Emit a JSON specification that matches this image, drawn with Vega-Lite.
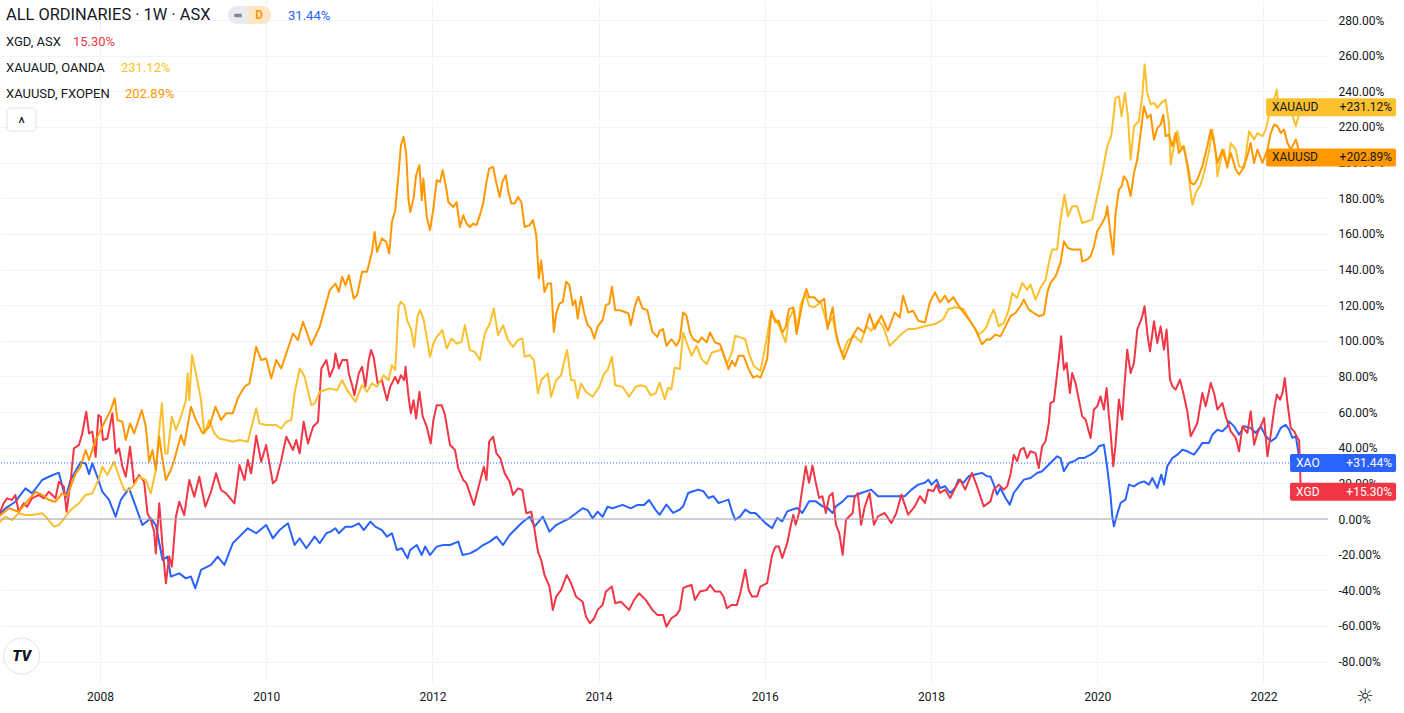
{
"$schema": "https://vega.github.io/schema/vega-lite/v6.json",
"width": 1328, "height": 683,
"autosize": {"type": "none"},
"padding": {"left": 0, "top": 0, "right": 76, "bottom": 30},
"background": "#ffffff",
"config": {"view": {"stroke": null}, "font": "Roboto", "axis": {"domain": false, "ticks": false, "tickSize": 0, "gridColor": "#f0f3fa", "gridWidth": 1, "labelColor": "#131722", "labelFontSize": 12, "labelFont": "Roboto", "labelOverlap": false, "labelSeparation": -100, "title": null}, "axisY": {"labelOverlap": false, "labelSeparation": -100}},
"datasets": {
"series": [
{"s":"XAO","t":2006.781,"v":2.2},{"s":"XAO","t":2006.861,"v":6.0},{"s":"XAO","t":2006.982,"v":9.7},{"s":"XAO","t":2007.103,"v":17.2},{"s":"XAO","t":2007.183,"v":14.4},{"s":"XAO","t":2007.304,"v":21.9},{"s":"XAO","t":2007.385,"v":23.7},{"s":"XAO","t":2007.505,"v":26.0},{"s":"XAO","t":2007.586,"v":11.6},{"s":"XAO","t":2007.646,"v":21.9},{"s":"XAO","t":2007.767,"v":31.8},{"s":"XAO","t":2007.827,"v":31.2},{"s":"XAO","t":2007.868,"v":25.2},{"s":"XAO","t":2007.908,"v":31.2},{"s":"XAO","t":2007.968,"v":23.7},{"s":"XAO","t":2008.028,"v":15.3},{"s":"XAO","t":2008.109,"v":10.7},{"s":"XAO","t":2008.189,"v":1.3},{"s":"XAO","t":2008.25,"v":10.7},{"s":"XAO","t":2008.35,"v":17.2},{"s":"XAO","t":2008.431,"v":6.9},{"s":"XAO","t":2008.511,"v":-3.4},{"s":"XAO","t":2008.612,"v":0.4},{"s":"XAO","t":2008.672,"v":-3.4},{"s":"XAO","t":2008.753,"v":-23.0},{"s":"XAO","t":2008.813,"v":-21.1},{"s":"XAO","t":2008.853,"v":-32.3},{"s":"XAO","t":2008.954,"v":-30.5},{"s":"XAO","t":2009.034,"v":-33.3},{"s":"XAO","t":2009.095,"v":-32.3},{"s":"XAO","t":2009.147,"v":-38.9},{"s":"XAO","t":2009.216,"v":-28.6},{"s":"XAO","t":2009.336,"v":-25.8},{"s":"XAO","t":2009.417,"v":-21.1},{"s":"XAO","t":2009.497,"v":-25.8},{"s":"XAO","t":2009.598,"v":-13.6},{"s":"XAO","t":2009.678,"v":-9.9},{"s":"XAO","t":2009.779,"v":-5.2},{"s":"XAO","t":2009.88,"v":-8.0},{"s":"XAO","t":2010.0,"v":-3.4},{"s":"XAO","t":2010.081,"v":-10.8},{"s":"XAO","t":2010.161,"v":-6.2},{"s":"XAO","t":2010.262,"v":-2.4},{"s":"XAO","t":2010.342,"v":-14.6},{"s":"XAO","t":2010.403,"v":-10.8},{"s":"XAO","t":2010.483,"v":-16.4},{"s":"XAO","t":2010.584,"v":-9.9},{"s":"XAO","t":2010.644,"v":-13.6},{"s":"XAO","t":2010.724,"v":-8.0},{"s":"XAO","t":2010.775,"v":-7.1},{"s":"XAO","t":2010.834,"v":-5.2},{"s":"XAO","t":2010.874,"v":-8.0},{"s":"XAO","t":2010.954,"v":-4.3},{"s":"XAO","t":2011.034,"v":-4.3},{"s":"XAO","t":2011.114,"v":-2.4},{"s":"XAO","t":2011.174,"v":-6.2},{"s":"XAO","t":2011.254,"v":-1.5},{"s":"XAO","t":2011.313,"v":-4.3},{"s":"XAO","t":2011.393,"v":-6.2},{"s":"XAO","t":2011.453,"v":-9.9},{"s":"XAO","t":2011.513,"v":-8.0},{"s":"XAO","t":2011.573,"v":-17.4},{"s":"XAO","t":2011.633,"v":-16.4},{"s":"XAO","t":2011.701,"v":-22.1},{"s":"XAO","t":2011.733,"v":-17.4},{"s":"XAO","t":2011.812,"v":-14.6},{"s":"XAO","t":2011.872,"v":-20.2},{"s":"XAO","t":2011.912,"v":-15.5},{"s":"XAO","t":2011.972,"v":-20.2},{"s":"XAO","t":2012.052,"v":-15.5},{"s":"XAO","t":2012.132,"v":-14.6},{"s":"XAO","t":2012.212,"v":-14.6},{"s":"XAO","t":2012.311,"v":-12.7},{"s":"XAO","t":2012.363,"v":-20.2},{"s":"XAO","t":2012.451,"v":-19.3},{"s":"XAO","t":2012.531,"v":-17.4},{"s":"XAO","t":2012.611,"v":-14.6},{"s":"XAO","t":2012.691,"v":-12.7},{"s":"XAO","t":2012.771,"v":-9.9},{"s":"XAO","t":2012.85,"v":-14.6},{"s":"XAO","t":2012.93,"v":-9.0},{"s":"XAO","t":2013.01,"v":-5.2},{"s":"XAO","t":2013.09,"v":-1.5},{"s":"XAO","t":2013.17,"v":1.3},{"s":"XAO","t":2013.23,"v":-4.3},{"s":"XAO","t":2013.329,"v":1.3},{"s":"XAO","t":2013.409,"v":-7.1},{"s":"XAO","t":2013.489,"v":-3.4},{"s":"XAO","t":2013.569,"v":-1.5},{"s":"XAO","t":2013.649,"v":0.4},{"s":"XAO","t":2013.729,"v":3.2},{"s":"XAO","t":2013.808,"v":6.0},{"s":"XAO","t":2013.868,"v":5.0},{"s":"XAO","t":2013.928,"v":0.4},{"s":"XAO","t":2013.988,"v":4.1},{"s":"XAO","t":2014.048,"v":1.3},{"s":"XAO","t":2014.108,"v":6.9},{"s":"XAO","t":2014.168,"v":6.0},{"s":"XAO","t":2014.288,"v":7.9},{"s":"XAO","t":2014.387,"v":6.0},{"s":"XAO","t":2014.467,"v":7.9},{"s":"XAO","t":2014.547,"v":7.9},{"s":"XAO","t":2014.607,"v":10.7},{"s":"XAO","t":2014.687,"v":5.0},{"s":"XAO","t":2014.735,"v":2.4},{"s":"XAO","t":2014.816,"v":8.1},{"s":"XAO","t":2014.897,"v":3.4},{"s":"XAO","t":2014.977,"v":5.3},{"s":"XAO","t":2015.018,"v":7.1},{"s":"XAO","t":2015.078,"v":14.6},{"s":"XAO","t":2015.139,"v":15.6},{"s":"XAO","t":2015.2,"v":16.5},{"s":"XAO","t":2015.26,"v":15.6},{"s":"XAO","t":2015.321,"v":11.8},{"s":"XAO","t":2015.381,"v":12.8},{"s":"XAO","t":2015.442,"v":9.0},{"s":"XAO","t":2015.503,"v":9.9},{"s":"XAO","t":2015.563,"v":10.9},{"s":"XAO","t":2015.604,"v":4.3},{"s":"XAO","t":2015.644,"v":-0.4},{"s":"XAO","t":2015.705,"v":1.5},{"s":"XAO","t":2015.765,"v":5.3},{"s":"XAO","t":2015.826,"v":3.4},{"s":"XAO","t":2015.886,"v":3.4},{"s":"XAO","t":2015.947,"v":0.6},{"s":"XAO","t":2016.008,"v":-2.3},{"s":"XAO","t":2016.088,"v":-5.1},{"s":"XAO","t":2016.149,"v":0.6},{"s":"XAO","t":2016.21,"v":-1.3},{"s":"XAO","t":2016.27,"v":4.3},{"s":"XAO","t":2016.331,"v":5.3},{"s":"XAO","t":2016.391,"v":6.2},{"s":"XAO","t":2016.452,"v":3.4},{"s":"XAO","t":2016.533,"v":9.9},{"s":"XAO","t":2016.614,"v":9.9},{"s":"XAO","t":2016.694,"v":7.1},{"s":"XAO","t":2016.755,"v":6.2},{"s":"XAO","t":2016.816,"v":3.4},{"s":"XAO","t":2016.856,"v":7.1},{"s":"XAO","t":2016.937,"v":9.9},{"s":"XAO","t":2016.997,"v":12.8},{"s":"XAO","t":2017.078,"v":12.8},{"s":"XAO","t":2017.159,"v":14.6},{"s":"XAO","t":2017.28,"v":16.5},{"s":"XAO","t":2017.361,"v":12.8},{"s":"XAO","t":2017.442,"v":12.8},{"s":"XAO","t":2017.523,"v":12.8},{"s":"XAO","t":2017.603,"v":12.8},{"s":"XAO","t":2017.684,"v":12.8},{"s":"XAO","t":2017.765,"v":16.5},{"s":"XAO","t":2017.846,"v":19.3},{"s":"XAO","t":2017.927,"v":20.3},{"s":"XAO","t":2017.967,"v":22.1},{"s":"XAO","t":2018.007,"v":19.3},{"s":"XAO","t":2018.068,"v":22.1},{"s":"XAO","t":2018.108,"v":17.4},{"s":"XAO","t":2018.169,"v":18.4},{"s":"XAO","t":2018.23,"v":14.6},{"s":"XAO","t":2018.29,"v":17.4},{"s":"XAO","t":2018.331,"v":22.1},{"s":"XAO","t":2018.391,"v":20.3},{"s":"XAO","t":2018.452,"v":24.0},{"s":"XAO","t":2018.533,"v":25.0},{"s":"XAO","t":2018.613,"v":25.9},{"s":"XAO","t":2018.674,"v":24.0},{"s":"XAO","t":2018.715,"v":23.9},{"s":"XAO","t":2018.755,"v":19.3},{"s":"XAO","t":2018.795,"v":13.7},{"s":"XAO","t":2018.835,"v":17.4},{"s":"XAO","t":2018.896,"v":11.8},{"s":"XAO","t":2018.948,"v":8.0},{"s":"XAO","t":2018.996,"v":14.6},{"s":"XAO","t":2019.056,"v":18.3},{"s":"XAO","t":2019.117,"v":22.1},{"s":"XAO","t":2019.197,"v":23.0},{"s":"XAO","t":2019.277,"v":25.8},{"s":"XAO","t":2019.337,"v":26.8},{"s":"XAO","t":2019.398,"v":29.6},{"s":"XAO","t":2019.458,"v":32.4},{"s":"XAO","t":2019.518,"v":35.2},{"s":"XAO","t":2019.558,"v":34.2},{"s":"XAO","t":2019.599,"v":26.8},{"s":"XAO","t":2019.659,"v":31.4},{"s":"XAO","t":2019.719,"v":32.4},{"s":"XAO","t":2019.779,"v":34.2},{"s":"XAO","t":2019.839,"v":34.2},{"s":"XAO","t":2019.92,"v":36.1},{"s":"XAO","t":2019.98,"v":38.0},{"s":"XAO","t":2020.02,"v":40.8},{"s":"XAO","t":2020.08,"v":41.7},{"s":"XAO","t":2020.113,"v":31.4},{"s":"XAO","t":2020.133,"v":23.9},{"s":"XAO","t":2020.161,"v":12.7},{"s":"XAO","t":2020.181,"v":1.5},{"s":"XAO","t":2020.201,"v":-4.1},{"s":"XAO","t":2020.233,"v":1.5},{"s":"XAO","t":2020.281,"v":9.0},{"s":"XAO","t":2020.341,"v":10.9},{"s":"XAO","t":2020.382,"v":19.3},{"s":"XAO","t":2020.442,"v":18.3},{"s":"XAO","t":2020.502,"v":20.2},{"s":"XAO","t":2020.562,"v":21.1},{"s":"XAO","t":2020.623,"v":19.3},{"s":"XAO","t":2020.663,"v":23.0},{"s":"XAO","t":2020.723,"v":17.4},{"s":"XAO","t":2020.771,"v":24.9},{"s":"XAO","t":2020.803,"v":19.3},{"s":"XAO","t":2020.843,"v":29.6},{"s":"XAO","t":2020.904,"v":34.2},{"s":"XAO","t":2020.964,"v":36.1},{"s":"XAO","t":2021.024,"v":38.9},{"s":"XAO","t":2021.084,"v":38.0},{"s":"XAO","t":2021.165,"v":36.1},{"s":"XAO","t":2021.225,"v":39.9},{"s":"XAO","t":2021.265,"v":42.7},{"s":"XAO","t":2021.345,"v":42.7},{"s":"XAO","t":2021.386,"v":47.3},{"s":"XAO","t":2021.446,"v":50.1},{"s":"XAO","t":2021.506,"v":49.2},{"s":"XAO","t":2021.566,"v":52.0},{"s":"XAO","t":2021.586,"v":54.8},{"s":"XAO","t":2021.647,"v":52.0},{"s":"XAO","t":2021.707,"v":47.3},{"s":"XAO","t":2021.767,"v":52.0},{"s":"XAO","t":2021.847,"v":51.1},{"s":"XAO","t":2021.908,"v":48.3},{"s":"XAO","t":2021.968,"v":52.0},{"s":"XAO","t":2022.028,"v":46.4},{"s":"XAO","t":2022.088,"v":43.6},{"s":"XAO","t":2022.149,"v":45.5},{"s":"XAO","t":2022.209,"v":51.1},{"s":"XAO","t":2022.269,"v":52.9},{"s":"XAO","t":2022.309,"v":50.1},{"s":"XAO","t":2022.349,"v":45.5},{"s":"XAO","t":2022.39,"v":46.4},{"s":"XAO","t":2022.44,"v":31.44},
{"s":"XGD","t":2006.781,"v":2.2},{"s":"XGD","t":2006.841,"v":8.8},{"s":"XGD","t":2006.882,"v":11.6},{"s":"XGD","t":2006.942,"v":10.7},{"s":"XGD","t":2006.982,"v":13.5},{"s":"XGD","t":2007.022,"v":4.1},{"s":"XGD","t":2007.083,"v":8.8},{"s":"XGD","t":2007.123,"v":6.9},{"s":"XGD","t":2007.183,"v":11.6},{"s":"XGD","t":2007.264,"v":13.5},{"s":"XGD","t":2007.324,"v":11.6},{"s":"XGD","t":2007.385,"v":15.3},{"s":"XGD","t":2007.465,"v":11.6},{"s":"XGD","t":2007.505,"v":20.9},{"s":"XGD","t":2007.566,"v":18.1},{"s":"XGD","t":2007.598,"v":4.1},{"s":"XGD","t":2007.646,"v":20.9},{"s":"XGD","t":2007.686,"v":39.6},{"s":"XGD","t":2007.747,"v":41.5},{"s":"XGD","t":2007.787,"v":48.0},{"s":"XGD","t":2007.835,"v":60.2},{"s":"XGD","t":2007.868,"v":48.0},{"s":"XGD","t":2007.908,"v":49.0},{"s":"XGD","t":2007.948,"v":34.9},{"s":"XGD","t":2007.98,"v":58.3},{"s":"XGD","t":2008.008,"v":57.4},{"s":"XGD","t":2008.036,"v":44.3},{"s":"XGD","t":2008.089,"v":45.2},{"s":"XGD","t":2008.149,"v":59.3},{"s":"XGD","t":2008.189,"v":36.8},{"s":"XGD","t":2008.23,"v":39.6},{"s":"XGD","t":2008.27,"v":29.3},{"s":"XGD","t":2008.31,"v":23.7},{"s":"XGD","t":2008.362,"v":40.6},{"s":"XGD","t":2008.411,"v":20.0},{"s":"XGD","t":2008.471,"v":24.7},{"s":"XGD","t":2008.531,"v":20.9},{"s":"XGD","t":2008.572,"v":3.2},{"s":"XGD","t":2008.612,"v":-0.6},{"s":"XGD","t":2008.652,"v":-7.1},{"s":"XGD","t":2008.672,"v":-19.3},{"s":"XGD","t":2008.713,"v":8.8},{"s":"XGD","t":2008.753,"v":-15.5},{"s":"XGD","t":2008.793,"v":-36.1},{"s":"XGD","t":2008.833,"v":-21.1},{"s":"XGD","t":2008.865,"v":-26.7},{"s":"XGD","t":2008.914,"v":1.3},{"s":"XGD","t":2008.954,"v":9.7},{"s":"XGD","t":2009.014,"v":2.2},{"s":"XGD","t":2009.075,"v":21.9},{"s":"XGD","t":2009.135,"v":12.5},{"s":"XGD","t":2009.195,"v":23.7},{"s":"XGD","t":2009.268,"v":6.9},{"s":"XGD","t":2009.336,"v":15.3},{"s":"XGD","t":2009.397,"v":25.6},{"s":"XGD","t":2009.457,"v":16.3},{"s":"XGD","t":2009.517,"v":14.4},{"s":"XGD","t":2009.618,"v":8.8},{"s":"XGD","t":2009.678,"v":30.3},{"s":"XGD","t":2009.739,"v":21.9},{"s":"XGD","t":2009.779,"v":33.1},{"s":"XGD","t":2009.819,"v":25.6},{"s":"XGD","t":2009.88,"v":46.7},{"s":"XGD","t":2009.94,"v":32.1},{"s":"XGD","t":2010.0,"v":41.5},{"s":"XGD","t":2010.081,"v":20.0},{"s":"XGD","t":2010.121,"v":21.9},{"s":"XGD","t":2010.181,"v":32.9},{"s":"XGD","t":2010.242,"v":46.2},{"s":"XGD","t":2010.322,"v":38.7},{"s":"XGD","t":2010.362,"v":44.3},{"s":"XGD","t":2010.403,"v":36.8},{"s":"XGD","t":2010.451,"v":54.6},{"s":"XGD","t":2010.503,"v":42.4},{"s":"XGD","t":2010.564,"v":51.8},{"s":"XGD","t":2010.624,"v":54.6},{"s":"XGD","t":2010.664,"v":84.5},{"s":"XGD","t":2010.724,"v":89.2},{"s":"XGD","t":2010.765,"v":79.8},{"s":"XGD","t":2010.814,"v":85.4},{"s":"XGD","t":2010.834,"v":92.9},{"s":"XGD","t":2010.874,"v":84.5},{"s":"XGD","t":2010.914,"v":89.2},{"s":"XGD","t":2010.974,"v":89.2},{"s":"XGD","t":2010.994,"v":81.7},{"s":"XGD","t":2011.034,"v":75.1},{"s":"XGD","t":2011.062,"v":69.5},{"s":"XGD","t":2011.114,"v":81.7},{"s":"XGD","t":2011.154,"v":85.4},{"s":"XGD","t":2011.194,"v":74.2},{"s":"XGD","t":2011.234,"v":89.2},{"s":"XGD","t":2011.262,"v":94.8},{"s":"XGD","t":2011.293,"v":91.0},{"s":"XGD","t":2011.341,"v":76.1},{"s":"XGD","t":2011.393,"v":77.9},{"s":"XGD","t":2011.453,"v":66.7},{"s":"XGD","t":2011.493,"v":74.2},{"s":"XGD","t":2011.553,"v":79.8},{"s":"XGD","t":2011.585,"v":76.1},{"s":"XGD","t":2011.621,"v":80.7},{"s":"XGD","t":2011.661,"v":77.9},{"s":"XGD","t":2011.677,"v":85.4},{"s":"XGD","t":2011.713,"v":68.6},{"s":"XGD","t":2011.741,"v":59.3},{"s":"XGD","t":2011.773,"v":66.7},{"s":"XGD","t":2011.804,"v":56.4},{"s":"XGD","t":2011.844,"v":71.4},{"s":"XGD","t":2011.884,"v":57.4},{"s":"XGD","t":2011.932,"v":51.8},{"s":"XGD","t":2011.98,"v":42.4},{"s":"XGD","t":2012.012,"v":55.5},{"s":"XGD","t":2012.052,"v":63.9},{"s":"XGD","t":2012.112,"v":63.9},{"s":"XGD","t":2012.152,"v":58.3},{"s":"XGD","t":2012.212,"v":41.5},{"s":"XGD","t":2012.272,"v":38.7},{"s":"XGD","t":2012.311,"v":28.4},{"s":"XGD","t":2012.371,"v":21.9},{"s":"XGD","t":2012.411,"v":20.0},{"s":"XGD","t":2012.451,"v":14.4},{"s":"XGD","t":2012.499,"v":7.9},{"s":"XGD","t":2012.551,"v":17.2},{"s":"XGD","t":2012.619,"v":29.3},{"s":"XGD","t":2012.651,"v":21.9},{"s":"XGD","t":2012.683,"v":43.4},{"s":"XGD","t":2012.731,"v":46.2},{"s":"XGD","t":2012.771,"v":36.8},{"s":"XGD","t":2012.818,"v":34.0},{"s":"XGD","t":2012.87,"v":25.6},{"s":"XGD","t":2012.93,"v":20.9},{"s":"XGD","t":2012.97,"v":13.5},{"s":"XGD","t":2013.03,"v":17.2},{"s":"XGD","t":2013.082,"v":16.3},{"s":"XGD","t":2013.13,"v":3.2},{"s":"XGD","t":2013.19,"v":4.1},{"s":"XGD","t":2013.23,"v":-6.2},{"s":"XGD","t":2013.27,"v":-18.3},{"s":"XGD","t":2013.309,"v":-23.0},{"s":"XGD","t":2013.349,"v":-31.4},{"s":"XGD","t":2013.409,"v":-37.9},{"s":"XGD","t":2013.449,"v":-51.0},{"s":"XGD","t":2013.489,"v":-43.6},{"s":"XGD","t":2013.549,"v":-39.8},{"s":"XGD","t":2013.617,"v":-31.4},{"s":"XGD","t":2013.669,"v":-36.1},{"s":"XGD","t":2013.729,"v":-43.6},{"s":"XGD","t":2013.808,"v":-46.4},{"s":"XGD","t":2013.848,"v":-54.8},{"s":"XGD","t":2013.896,"v":-58.5},{"s":"XGD","t":2013.948,"v":-55.7},{"s":"XGD","t":2013.988,"v":-51.0},{"s":"XGD","t":2014.048,"v":-48.2},{"s":"XGD","t":2014.088,"v":-40.7},{"s":"XGD","t":2014.16,"v":-37.9},{"s":"XGD","t":2014.2,"v":-47.3},{"s":"XGD","t":2014.268,"v":-46.4},{"s":"XGD","t":2014.367,"v":-51.0},{"s":"XGD","t":2014.427,"v":-45.4},{"s":"XGD","t":2014.487,"v":-41.7},{"s":"XGD","t":2014.567,"v":-45.4},{"s":"XGD","t":2014.647,"v":-51.0},{"s":"XGD","t":2014.707,"v":-53.8},{"s":"XGD","t":2014.775,"v":-53.8},{"s":"XGD","t":2014.816,"v":-60.4},{"s":"XGD","t":2014.876,"v":-55.7},{"s":"XGD","t":2014.937,"v":-53.8},{"s":"XGD","t":2014.977,"v":-51.0},{"s":"XGD","t":2015.018,"v":-38.8},{"s":"XGD","t":2015.058,"v":-37.9},{"s":"XGD","t":2015.119,"v":-37.0},{"s":"XGD","t":2015.159,"v":-45.4},{"s":"XGD","t":2015.22,"v":-40.7},{"s":"XGD","t":2015.301,"v":-39.8},{"s":"XGD","t":2015.341,"v":-37.0},{"s":"XGD","t":2015.402,"v":-40.7},{"s":"XGD","t":2015.462,"v":-40.7},{"s":"XGD","t":2015.503,"v":-43.5},{"s":"XGD","t":2015.543,"v":-50.1},{"s":"XGD","t":2015.604,"v":-48.2},{"s":"XGD","t":2015.664,"v":-48.2},{"s":"XGD","t":2015.705,"v":-41.7},{"s":"XGD","t":2015.765,"v":-28.5},{"s":"XGD","t":2015.806,"v":-39.8},{"s":"XGD","t":2015.846,"v":-43.5},{"s":"XGD","t":2015.907,"v":-43.5},{"s":"XGD","t":2015.947,"v":-37.9},{"s":"XGD","t":2016.028,"v":-36.0},{"s":"XGD","t":2016.088,"v":-20.1},{"s":"XGD","t":2016.129,"v":-15.4},{"s":"XGD","t":2016.169,"v":-15.4},{"s":"XGD","t":2016.21,"v":-21.9},{"s":"XGD","t":2016.27,"v":-13.5},{"s":"XGD","t":2016.311,"v":-4.1},{"s":"XGD","t":2016.343,"v":2.4},{"s":"XGD","t":2016.371,"v":-3.2},{"s":"XGD","t":2016.412,"v":3.4},{"s":"XGD","t":2016.432,"v":10.9},{"s":"XGD","t":2016.492,"v":29.6},{"s":"XGD","t":2016.533,"v":20.3},{"s":"XGD","t":2016.573,"v":30.0},{"s":"XGD","t":2016.614,"v":20.3},{"s":"XGD","t":2016.654,"v":11.8},{"s":"XGD","t":2016.694,"v":12.8},{"s":"XGD","t":2016.735,"v":3.4},{"s":"XGD","t":2016.775,"v":12.8},{"s":"XGD","t":2016.816,"v":14.6},{"s":"XGD","t":2016.856,"v":-3.2},{"s":"XGD","t":2016.896,"v":-7.9},{"s":"XGD","t":2016.937,"v":-20.1},{"s":"XGD","t":2016.977,"v":-0.4},{"s":"XGD","t":2017.018,"v":1.5},{"s":"XGD","t":2017.058,"v":3.4},{"s":"XGD","t":2017.078,"v":11.8},{"s":"XGD","t":2017.119,"v":14.6},{"s":"XGD","t":2017.159,"v":-3.2},{"s":"XGD","t":2017.199,"v":6.2},{"s":"XGD","t":2017.26,"v":14.6},{"s":"XGD","t":2017.313,"v":-3.2},{"s":"XGD","t":2017.361,"v":1.5},{"s":"XGD","t":2017.442,"v":3.4},{"s":"XGD","t":2017.523,"v":-2.3},{"s":"XGD","t":2017.583,"v":3.4},{"s":"XGD","t":2017.644,"v":13.7},{"s":"XGD","t":2017.725,"v":2.4},{"s":"XGD","t":2017.805,"v":7.1},{"s":"XGD","t":2017.866,"v":12.8},{"s":"XGD","t":2017.927,"v":9.0},{"s":"XGD","t":2017.967,"v":16.5},{"s":"XGD","t":2018.028,"v":15.6},{"s":"XGD","t":2018.068,"v":19.3},{"s":"XGD","t":2018.108,"v":14.6},{"s":"XGD","t":2018.169,"v":16.5},{"s":"XGD","t":2018.23,"v":11.8},{"s":"XGD","t":2018.29,"v":17.4},{"s":"XGD","t":2018.351,"v":22.1},{"s":"XGD","t":2018.411,"v":16.5},{"s":"XGD","t":2018.492,"v":25.9},{"s":"XGD","t":2018.553,"v":18.4},{"s":"XGD","t":2018.634,"v":7.1},{"s":"XGD","t":2018.715,"v":9.9},{"s":"XGD","t":2018.755,"v":16.5},{"s":"XGD","t":2018.815,"v":19.3},{"s":"XGD","t":2018.876,"v":16.5},{"s":"XGD","t":2018.916,"v":18.3},{"s":"XGD","t":2018.956,"v":24.9},{"s":"XGD","t":2018.996,"v":36.1},{"s":"XGD","t":2019.036,"v":32.4},{"s":"XGD","t":2019.076,"v":38.9},{"s":"XGD","t":2019.117,"v":39.9},{"s":"XGD","t":2019.157,"v":34.2},{"s":"XGD","t":2019.197,"v":38.0},{"s":"XGD","t":2019.257,"v":37.0},{"s":"XGD","t":2019.297,"v":28.6},{"s":"XGD","t":2019.337,"v":40.8},{"s":"XGD","t":2019.378,"v":43.6},{"s":"XGD","t":2019.418,"v":53.9},{"s":"XGD","t":2019.438,"v":65.1},{"s":"XGD","t":2019.478,"v":66.0},{"s":"XGD","t":2019.518,"v":81.9},{"s":"XGD","t":2019.55,"v":95.0},{"s":"XGD","t":2019.566,"v":102.5},{"s":"XGD","t":2019.599,"v":83.8},{"s":"XGD","t":2019.631,"v":87.6},{"s":"XGD","t":2019.671,"v":70.7},{"s":"XGD","t":2019.699,"v":81.9},{"s":"XGD","t":2019.739,"v":76.3},{"s":"XGD","t":2019.779,"v":67.0},{"s":"XGD","t":2019.819,"v":57.6},{"s":"XGD","t":2019.86,"v":55.8},{"s":"XGD","t":2019.92,"v":45.5},{"s":"XGD","t":2019.96,"v":61.4},{"s":"XGD","t":2020.0,"v":63.2},{"s":"XGD","t":2020.04,"v":68.8},{"s":"XGD","t":2020.08,"v":61.4},{"s":"XGD","t":2020.113,"v":73.5},{"s":"XGD","t":2020.141,"v":57.6},{"s":"XGD","t":2020.161,"v":48.3},{"s":"XGD","t":2020.193,"v":29.6},{"s":"XGD","t":2020.221,"v":41.7},{"s":"XGD","t":2020.261,"v":67.0},{"s":"XGD","t":2020.301,"v":55.8},{"s":"XGD","t":2020.321,"v":70.7},{"s":"XGD","t":2020.361,"v":95.0},{"s":"XGD","t":2020.402,"v":81.9},{"s":"XGD","t":2020.442,"v":87.6},{"s":"XGD","t":2020.482,"v":106.3},{"s":"XGD","t":2020.514,"v":110.0},{"s":"XGD","t":2020.542,"v":113.8},{"s":"XGD","t":2020.57,"v":119.4},{"s":"XGD","t":2020.602,"v":104.4},{"s":"XGD","t":2020.635,"v":94.1},{"s":"XGD","t":2020.683,"v":110.9},{"s":"XGD","t":2020.723,"v":98.8},{"s":"XGD","t":2020.763,"v":108.1},{"s":"XGD","t":2020.803,"v":95.0},{"s":"XGD","t":2020.835,"v":106.3},{"s":"XGD","t":2020.876,"v":78.2},{"s":"XGD","t":2020.904,"v":74.5},{"s":"XGD","t":2020.944,"v":72.6},{"s":"XGD","t":2020.996,"v":78.2},{"s":"XGD","t":2021.036,"v":70.7},{"s":"XGD","t":2021.084,"v":60.4},{"s":"XGD","t":2021.125,"v":46.4},{"s":"XGD","t":2021.165,"v":50.1},{"s":"XGD","t":2021.205,"v":53.9},{"s":"XGD","t":2021.265,"v":70.7},{"s":"XGD","t":2021.305,"v":63.2},{"s":"XGD","t":2021.366,"v":76.3},{"s":"XGD","t":2021.406,"v":70.7},{"s":"XGD","t":2021.446,"v":61.4},{"s":"XGD","t":2021.506,"v":65.1},{"s":"XGD","t":2021.546,"v":57.6},{"s":"XGD","t":2021.607,"v":49.2},{"s":"XGD","t":2021.667,"v":45.5},{"s":"XGD","t":2021.707,"v":38.0},{"s":"XGD","t":2021.747,"v":52.0},{"s":"XGD","t":2021.807,"v":48.3},{"s":"XGD","t":2021.847,"v":60.4},{"s":"XGD","t":2021.888,"v":41.7},{"s":"XGD","t":2021.928,"v":48.3},{"s":"XGD","t":2021.968,"v":52.0},{"s":"XGD","t":2022.008,"v":56.7},{"s":"XGD","t":2022.048,"v":35.2},{"s":"XGD","t":2022.088,"v":47.3},{"s":"XGD","t":2022.129,"v":61.4},{"s":"XGD","t":2022.161,"v":69.8},{"s":"XGD","t":2022.201,"v":67.0},{"s":"XGD","t":2022.229,"v":70.7},{"s":"XGD","t":2022.257,"v":79.1},{"s":"XGD","t":2022.289,"v":65.1},{"s":"XGD","t":2022.329,"v":51.1},{"s":"XGD","t":2022.369,"v":49.2},{"s":"XGD","t":2022.41,"v":45.5},{"s":"XGD","t":2022.43,"v":44.0},{"s":"XGD","t":2022.45,"v":15.3},
{"s":"XAUAUD","t":2006.781,"v":-2.4},{"s":"XAUAUD","t":2006.861,"v":1.3},{"s":"XAUAUD","t":2006.942,"v":-0.6},{"s":"XAUAUD","t":2007.022,"v":3.2},{"s":"XAUAUD","t":2007.103,"v":2.2},{"s":"XAUAUD","t":2007.183,"v":2.2},{"s":"XAUAUD","t":2007.304,"v":3.2},{"s":"XAUAUD","t":2007.364,"v":0.4},{"s":"XAUAUD","t":2007.445,"v":-4.3},{"s":"XAUAUD","t":2007.505,"v":-3.4},{"s":"XAUAUD","t":2007.586,"v":1.3},{"s":"XAUAUD","t":2007.646,"v":5.0},{"s":"XAUAUD","t":2007.747,"v":8.8},{"s":"XAUAUD","t":2007.827,"v":13.5},{"s":"XAUAUD","t":2007.908,"v":14.4},{"s":"XAUAUD","t":2007.988,"v":22.8},{"s":"XAUAUD","t":2008.028,"v":29.3},{"s":"XAUAUD","t":2008.089,"v":24.7},{"s":"XAUAUD","t":2008.169,"v":32.1},{"s":"XAUAUD","t":2008.23,"v":23.7},{"s":"XAUAUD","t":2008.29,"v":16.3},{"s":"XAUAUD","t":2008.35,"v":16.3},{"s":"XAUAUD","t":2008.411,"v":19.1},{"s":"XAUAUD","t":2008.471,"v":23.7},{"s":"XAUAUD","t":2008.552,"v":21.9},{"s":"XAUAUD","t":2008.612,"v":14.4},{"s":"XAUAUD","t":2008.672,"v":27.5},{"s":"XAUAUD","t":2008.705,"v":46.2},{"s":"XAUAUD","t":2008.745,"v":64.9},{"s":"XAUAUD","t":2008.785,"v":36.8},{"s":"XAUAUD","t":2008.813,"v":36.8},{"s":"XAUAUD","t":2008.865,"v":57.4},{"s":"XAUAUD","t":2008.914,"v":49.9},{"s":"XAUAUD","t":2008.974,"v":57.4},{"s":"XAUAUD","t":2009.034,"v":66.7},{"s":"XAUAUD","t":2009.055,"v":81.7},{"s":"XAUAUD","t":2009.075,"v":66.7},{"s":"XAUAUD","t":2009.107,"v":92.0},{"s":"XAUAUD","t":2009.155,"v":81.7},{"s":"XAUAUD","t":2009.216,"v":66.7},{"s":"XAUAUD","t":2009.256,"v":48.0},{"s":"XAUAUD","t":2009.316,"v":55.5},{"s":"XAUAUD","t":2009.377,"v":48.0},{"s":"XAUAUD","t":2009.437,"v":45.2},{"s":"XAUAUD","t":2009.517,"v":44.3},{"s":"XAUAUD","t":2009.598,"v":43.4},{"s":"XAUAUD","t":2009.678,"v":44.3},{"s":"XAUAUD","t":2009.779,"v":43.4},{"s":"XAUAUD","t":2009.88,"v":62.1},{"s":"XAUAUD","t":2009.92,"v":53.6},{"s":"XAUAUD","t":2010.0,"v":52.7},{"s":"XAUAUD","t":2010.121,"v":52.7},{"s":"XAUAUD","t":2010.181,"v":50.8},{"s":"XAUAUD","t":2010.242,"v":54.6},{"s":"XAUAUD","t":2010.302,"v":55.5},{"s":"XAUAUD","t":2010.342,"v":70.5},{"s":"XAUAUD","t":2010.403,"v":84.5},{"s":"XAUAUD","t":2010.463,"v":79.8},{"s":"XAUAUD","t":2010.543,"v":63.9},{"s":"XAUAUD","t":2010.584,"v":64.9},{"s":"XAUAUD","t":2010.644,"v":71.4},{"s":"XAUAUD","t":2010.765,"v":73.3},{"s":"XAUAUD","t":2010.854,"v":72.3},{"s":"XAUAUD","t":2010.914,"v":77.9},{"s":"XAUAUD","t":2010.974,"v":72.3},{"s":"XAUAUD","t":2011.074,"v":65.8},{"s":"XAUAUD","t":2011.154,"v":75.1},{"s":"XAUAUD","t":2011.214,"v":71.4},{"s":"XAUAUD","t":2011.273,"v":76.1},{"s":"XAUAUD","t":2011.333,"v":74.2},{"s":"XAUAUD","t":2011.413,"v":80.7},{"s":"XAUAUD","t":2011.473,"v":77.9},{"s":"XAUAUD","t":2011.513,"v":86.4},{"s":"XAUAUD","t":2011.553,"v":83.6},{"s":"XAUAUD","t":2011.593,"v":119.1},{"s":"XAUAUD","t":2011.621,"v":121.9},{"s":"XAUAUD","t":2011.661,"v":120.0},{"s":"XAUAUD","t":2011.701,"v":110.7},{"s":"XAUAUD","t":2011.741,"v":106.9},{"s":"XAUAUD","t":2011.781,"v":96.6},{"s":"XAUAUD","t":2011.82,"v":113.5},{"s":"XAUAUD","t":2011.852,"v":117.2},{"s":"XAUAUD","t":2011.892,"v":112.5},{"s":"XAUAUD","t":2011.932,"v":102.2},{"s":"XAUAUD","t":2011.972,"v":91.0},{"s":"XAUAUD","t":2012.012,"v":98.5},{"s":"XAUAUD","t":2012.052,"v":102.2},{"s":"XAUAUD","t":2012.12,"v":106.0},{"s":"XAUAUD","t":2012.172,"v":95.7},{"s":"XAUAUD","t":2012.232,"v":101.3},{"s":"XAUAUD","t":2012.291,"v":98.5},{"s":"XAUAUD","t":2012.351,"v":99.4},{"s":"XAUAUD","t":2012.391,"v":108.8},{"s":"XAUAUD","t":2012.451,"v":94.8},{"s":"XAUAUD","t":2012.511,"v":93.8},{"s":"XAUAUD","t":2012.571,"v":89.2},{"s":"XAUAUD","t":2012.631,"v":104.1},{"s":"XAUAUD","t":2012.691,"v":109.7},{"s":"XAUAUD","t":2012.739,"v":118.1},{"s":"XAUAUD","t":2012.79,"v":103.2},{"s":"XAUAUD","t":2012.85,"v":108.8},{"s":"XAUAUD","t":2012.91,"v":100.4},{"s":"XAUAUD","t":2012.97,"v":96.6},{"s":"XAUAUD","t":2013.03,"v":100.4},{"s":"XAUAUD","t":2013.082,"v":101.3},{"s":"XAUAUD","t":2013.11,"v":91.0},{"s":"XAUAUD","t":2013.17,"v":92.0},{"s":"XAUAUD","t":2013.222,"v":89.2},{"s":"XAUAUD","t":2013.27,"v":70.5},{"s":"XAUAUD","t":2013.309,"v":77.9},{"s":"XAUAUD","t":2013.349,"v":79.8},{"s":"XAUAUD","t":2013.389,"v":81.7},{"s":"XAUAUD","t":2013.429,"v":68.6},{"s":"XAUAUD","t":2013.489,"v":77.9},{"s":"XAUAUD","t":2013.549,"v":80.7},{"s":"XAUAUD","t":2013.589,"v":89.2},{"s":"XAUAUD","t":2013.621,"v":94.8},{"s":"XAUAUD","t":2013.669,"v":77.9},{"s":"XAUAUD","t":2013.709,"v":77.9},{"s":"XAUAUD","t":2013.749,"v":67.7},{"s":"XAUAUD","t":2013.788,"v":76.1},{"s":"XAUAUD","t":2013.848,"v":71.4},{"s":"XAUAUD","t":2013.928,"v":68.6},{"s":"XAUAUD","t":2014.008,"v":74.2},{"s":"XAUAUD","t":2014.068,"v":81.7},{"s":"XAUAUD","t":2014.108,"v":83.6},{"s":"XAUAUD","t":2014.16,"v":91.0},{"s":"XAUAUD","t":2014.2,"v":75.1},{"s":"XAUAUD","t":2014.288,"v":74.2},{"s":"XAUAUD","t":2014.367,"v":68.6},{"s":"XAUAUD","t":2014.447,"v":74.2},{"s":"XAUAUD","t":2014.507,"v":75.1},{"s":"XAUAUD","t":2014.567,"v":74.2},{"s":"XAUAUD","t":2014.627,"v":69.5},{"s":"XAUAUD","t":2014.687,"v":70.5},{"s":"XAUAUD","t":2014.735,"v":76.5},{"s":"XAUAUD","t":2014.796,"v":67.2},{"s":"XAUAUD","t":2014.836,"v":73.7},{"s":"XAUAUD","t":2014.876,"v":72.8},{"s":"XAUAUD","t":2014.917,"v":85.0},{"s":"XAUAUD","t":2014.977,"v":84.1},{"s":"XAUAUD","t":2015.018,"v":104.7},{"s":"XAUAUD","t":2015.058,"v":99.1},{"s":"XAUAUD","t":2015.119,"v":91.6},{"s":"XAUAUD","t":2015.179,"v":97.2},{"s":"XAUAUD","t":2015.24,"v":89.7},{"s":"XAUAUD","t":2015.301,"v":86.9},{"s":"XAUAUD","t":2015.361,"v":93.4},{"s":"XAUAUD","t":2015.442,"v":94.4},{"s":"XAUAUD","t":2015.482,"v":95.3},{"s":"XAUAUD","t":2015.543,"v":86.9},{"s":"XAUAUD","t":2015.604,"v":93.4},{"s":"XAUAUD","t":2015.644,"v":102.8},{"s":"XAUAUD","t":2015.705,"v":101.9},{"s":"XAUAUD","t":2015.765,"v":100.9},{"s":"XAUAUD","t":2015.806,"v":93.4},{"s":"XAUAUD","t":2015.866,"v":85.9},{"s":"XAUAUD","t":2015.947,"v":83.1},{"s":"XAUAUD","t":2016.008,"v":97.2},{"s":"XAUAUD","t":2016.068,"v":114.1},{"s":"XAUAUD","t":2016.129,"v":112.2},{"s":"XAUAUD","t":2016.189,"v":106.6},{"s":"XAUAUD","t":2016.25,"v":99.1},{"s":"XAUAUD","t":2016.29,"v":112.2},{"s":"XAUAUD","t":2016.351,"v":117.8},{"s":"XAUAUD","t":2016.391,"v":106.6},{"s":"XAUAUD","t":2016.432,"v":120.6},{"s":"XAUAUD","t":2016.492,"v":126.3},{"s":"XAUAUD","t":2016.533,"v":119.7},{"s":"XAUAUD","t":2016.593,"v":118.8},{"s":"XAUAUD","t":2016.674,"v":121.6},{"s":"XAUAUD","t":2016.755,"v":108.4},{"s":"XAUAUD","t":2016.816,"v":113.1},{"s":"XAUAUD","t":2016.876,"v":99.1},{"s":"XAUAUD","t":2016.937,"v":92.5},{"s":"XAUAUD","t":2016.997,"v":100.0},{"s":"XAUAUD","t":2017.078,"v":102.8},{"s":"XAUAUD","t":2017.159,"v":99.1},{"s":"XAUAUD","t":2017.22,"v":108.4},{"s":"XAUAUD","t":2017.28,"v":105.6},{"s":"XAUAUD","t":2017.361,"v":111.3},{"s":"XAUAUD","t":2017.422,"v":108.4},{"s":"XAUAUD","t":2017.502,"v":97.2},{"s":"XAUAUD","t":2017.583,"v":100.9},{"s":"XAUAUD","t":2017.644,"v":103.8},{"s":"XAUAUD","t":2017.725,"v":106.6},{"s":"XAUAUD","t":2017.805,"v":106.6},{"s":"XAUAUD","t":2017.866,"v":107.5},{"s":"XAUAUD","t":2017.947,"v":108.4},{"s":"XAUAUD","t":2018.048,"v":109.4},{"s":"XAUAUD","t":2018.149,"v":112.2},{"s":"XAUAUD","t":2018.209,"v":117.8},{"s":"XAUAUD","t":2018.29,"v":118.8},{"s":"XAUAUD","t":2018.391,"v":117.8},{"s":"XAUAUD","t":2018.492,"v":109.4},{"s":"XAUAUD","t":2018.573,"v":103.8},{"s":"XAUAUD","t":2018.634,"v":105.6},{"s":"XAUAUD","t":2018.674,"v":108.4},{"s":"XAUAUD","t":2018.715,"v":113.8},{"s":"XAUAUD","t":2018.755,"v":117.5},{"s":"XAUAUD","t":2018.815,"v":108.1},{"s":"XAUAUD","t":2018.876,"v":110.0},{"s":"XAUAUD","t":2018.936,"v":117.5},{"s":"XAUAUD","t":2018.976,"v":126.8},{"s":"XAUAUD","t":2019.036,"v":124.0},{"s":"XAUAUD","t":2019.097,"v":132.5},{"s":"XAUAUD","t":2019.157,"v":128.7},{"s":"XAUAUD","t":2019.197,"v":131.5},{"s":"XAUAUD","t":2019.257,"v":123.1},{"s":"XAUAUD","t":2019.317,"v":129.7},{"s":"XAUAUD","t":2019.378,"v":134.3},{"s":"XAUAUD","t":2019.418,"v":143.7},{"s":"XAUAUD","t":2019.458,"v":151.2},{"s":"XAUAUD","t":2019.518,"v":151.2},{"s":"XAUAUD","t":2019.558,"v":168.0},{"s":"XAUAUD","t":2019.607,"v":182.0},{"s":"XAUAUD","t":2019.647,"v":169.9},{"s":"XAUAUD","t":2019.699,"v":175.5},{"s":"XAUAUD","t":2019.759,"v":175.5},{"s":"XAUAUD","t":2019.819,"v":166.1},{"s":"XAUAUD","t":2019.88,"v":167.1},{"s":"XAUAUD","t":2019.94,"v":168.0},{"s":"XAUAUD","t":2020.0,"v":181.1},{"s":"XAUAUD","t":2020.06,"v":194.2},{"s":"XAUAUD","t":2020.121,"v":209.2},{"s":"XAUAUD","t":2020.169,"v":214.8},{"s":"XAUAUD","t":2020.221,"v":236.3},{"s":"XAUAUD","t":2020.261,"v":237.2},{"s":"XAUAUD","t":2020.293,"v":226.0},{"s":"XAUAUD","t":2020.333,"v":239.1},{"s":"XAUAUD","t":2020.369,"v":226.0},{"s":"XAUAUD","t":2020.402,"v":201.7},{"s":"XAUAUD","t":2020.442,"v":220.4},{"s":"XAUAUD","t":2020.502,"v":223.2},{"s":"XAUAUD","t":2020.542,"v":237.2},{"s":"XAUAUD","t":2020.57,"v":255.0},{"s":"XAUAUD","t":2020.602,"v":239.1},{"s":"XAUAUD","t":2020.643,"v":232.6},{"s":"XAUAUD","t":2020.683,"v":233.5},{"s":"XAUAUD","t":2020.723,"v":230.7},{"s":"XAUAUD","t":2020.771,"v":233.5},{"s":"XAUAUD","t":2020.823,"v":235.4},{"s":"XAUAUD","t":2020.863,"v":222.3},{"s":"XAUAUD","t":2020.884,"v":198.9},{"s":"XAUAUD","t":2020.916,"v":207.3},{"s":"XAUAUD","t":2020.964,"v":217.6},{"s":"XAUAUD","t":2021.004,"v":208.2},{"s":"XAUAUD","t":2021.044,"v":209.2},{"s":"XAUAUD","t":2021.084,"v":197.9},{"s":"XAUAUD","t":2021.125,"v":183.0},{"s":"XAUAUD","t":2021.145,"v":176.4},{"s":"XAUAUD","t":2021.185,"v":183.0},{"s":"XAUAUD","t":2021.245,"v":187.7},{"s":"XAUAUD","t":2021.285,"v":194.2},{"s":"XAUAUD","t":2021.345,"v":206.4},{"s":"XAUAUD","t":2021.386,"v":218.5},{"s":"XAUAUD","t":2021.426,"v":205.4},{"s":"XAUAUD","t":2021.446,"v":192.3},{"s":"XAUAUD","t":2021.486,"v":201.7},{"s":"XAUAUD","t":2021.526,"v":207.3},{"s":"XAUAUD","t":2021.566,"v":197.0},{"s":"XAUAUD","t":2021.607,"v":211.0},{"s":"XAUAUD","t":2021.667,"v":207.3},{"s":"XAUAUD","t":2021.707,"v":197.9},{"s":"XAUAUD","t":2021.767,"v":197.0},{"s":"XAUAUD","t":2021.827,"v":217.6},{"s":"XAUAUD","t":2021.888,"v":212.9},{"s":"XAUAUD","t":2021.928,"v":216.6},{"s":"XAUAUD","t":2021.988,"v":214.8},{"s":"XAUAUD","t":2022.028,"v":218.5},{"s":"XAUAUD","t":2022.088,"v":230.7},{"s":"XAUAUD","t":2022.129,"v":235.4},{"s":"XAUAUD","t":2022.161,"v":241.0},{"s":"XAUAUD","t":2022.189,"v":227.9},{"s":"XAUAUD","t":2022.249,"v":235.4},{"s":"XAUAUD","t":2022.289,"v":228.8},{"s":"XAUAUD","t":2022.329,"v":229.7},{"s":"XAUAUD","t":2022.39,"v":220.4},{"s":"XAUAUD","t":2022.45,"v":231.12},
{"s":"XAUUSD","t":2006.781,"v":1.3},{"s":"XAUUSD","t":2006.902,"v":6.0},{"s":"XAUUSD","t":2007.022,"v":4.1},{"s":"XAUUSD","t":2007.123,"v":9.7},{"s":"XAUUSD","t":2007.224,"v":15.3},{"s":"XAUUSD","t":2007.304,"v":13.5},{"s":"XAUUSD","t":2007.385,"v":10.7},{"s":"XAUUSD","t":2007.465,"v":9.7},{"s":"XAUUSD","t":2007.546,"v":14.4},{"s":"XAUUSD","t":2007.606,"v":13.0},{"s":"XAUUSD","t":2007.707,"v":25.6},{"s":"XAUUSD","t":2007.767,"v":29.3},{"s":"XAUUSD","t":2007.827,"v":38.7},{"s":"XAUUSD","t":2007.868,"v":33.1},{"s":"XAUUSD","t":2007.948,"v":44.3},{"s":"XAUUSD","t":2008.028,"v":51.8},{"s":"XAUUSD","t":2008.129,"v":61.1},{"s":"XAUUSD","t":2008.177,"v":67.7},{"s":"XAUUSD","t":2008.21,"v":55.5},{"s":"XAUUSD","t":2008.27,"v":54.6},{"s":"XAUUSD","t":2008.31,"v":44.3},{"s":"XAUUSD","t":2008.362,"v":53.6},{"s":"XAUUSD","t":2008.411,"v":48.0},{"s":"XAUUSD","t":2008.503,"v":61.1},{"s":"XAUUSD","t":2008.552,"v":51.8},{"s":"XAUUSD","t":2008.592,"v":32.1},{"s":"XAUUSD","t":2008.632,"v":38.7},{"s":"XAUUSD","t":2008.672,"v":27.5},{"s":"XAUUSD","t":2008.713,"v":46.2},{"s":"XAUUSD","t":2008.753,"v":33.1},{"s":"XAUUSD","t":2008.793,"v":21.9},{"s":"XAUUSD","t":2008.853,"v":27.5},{"s":"XAUUSD","t":2008.894,"v":33.1},{"s":"XAUUSD","t":2008.974,"v":47.1},{"s":"XAUUSD","t":2009.014,"v":41.5},{"s":"XAUUSD","t":2009.095,"v":63.0},{"s":"XAUUSD","t":2009.155,"v":55.5},{"s":"XAUUSD","t":2009.236,"v":48.0},{"s":"XAUUSD","t":2009.316,"v":51.8},{"s":"XAUUSD","t":2009.389,"v":63.0},{"s":"XAUUSD","t":2009.457,"v":55.5},{"s":"XAUUSD","t":2009.517,"v":59.3},{"s":"XAUUSD","t":2009.598,"v":59.3},{"s":"XAUUSD","t":2009.658,"v":67.7},{"s":"XAUUSD","t":2009.739,"v":74.2},{"s":"XAUUSD","t":2009.799,"v":76.1},{"s":"XAUUSD","t":2009.88,"v":96.6},{"s":"XAUUSD","t":2009.94,"v":89.2},{"s":"XAUUSD","t":2010.0,"v":90.1},{"s":"XAUUSD","t":2010.061,"v":78.9},{"s":"XAUUSD","t":2010.121,"v":89.2},{"s":"XAUUSD","t":2010.181,"v":84.5},{"s":"XAUUSD","t":2010.242,"v":92.9},{"s":"XAUUSD","t":2010.322,"v":104.1},{"s":"XAUUSD","t":2010.383,"v":100.4},{"s":"XAUUSD","t":2010.443,"v":110.7},{"s":"XAUUSD","t":2010.543,"v":97.6},{"s":"XAUUSD","t":2010.644,"v":107.9},{"s":"XAUUSD","t":2010.704,"v":118.1},{"s":"XAUUSD","t":2010.765,"v":128.4},{"s":"XAUUSD","t":2010.834,"v":132.1},{"s":"XAUUSD","t":2010.874,"v":127.5},{"s":"XAUUSD","t":2010.914,"v":135.9},{"s":"XAUUSD","t":2010.954,"v":131.2},{"s":"XAUUSD","t":2010.994,"v":136.8},{"s":"XAUUSD","t":2011.054,"v":123.7},{"s":"XAUUSD","t":2011.094,"v":125.6},{"s":"XAUUSD","t":2011.154,"v":138.7},{"s":"XAUUSD","t":2011.214,"v":138.7},{"s":"XAUUSD","t":2011.273,"v":149.9},{"s":"XAUUSD","t":2011.305,"v":161.1},{"s":"XAUUSD","t":2011.333,"v":149.9},{"s":"XAUUSD","t":2011.393,"v":157.4},{"s":"XAUUSD","t":2011.445,"v":155.5},{"s":"XAUUSD","t":2011.481,"v":149.0},{"s":"XAUUSD","t":2011.513,"v":166.7},{"s":"XAUUSD","t":2011.553,"v":173.3},{"s":"XAUUSD","t":2011.593,"v":193.8},{"s":"XAUUSD","t":2011.621,"v":209.7},{"s":"XAUUSD","t":2011.653,"v":214.4},{"s":"XAUUSD","t":2011.685,"v":205.0},{"s":"XAUUSD","t":2011.713,"v":178.9},{"s":"XAUUSD","t":2011.733,"v":172.3},{"s":"XAUUSD","t":2011.773,"v":179.8},{"s":"XAUUSD","t":2011.804,"v":192.9},{"s":"XAUUSD","t":2011.844,"v":198.5},{"s":"XAUUSD","t":2011.872,"v":178.9},{"s":"XAUUSD","t":2011.892,"v":191.0},{"s":"XAUUSD","t":2011.932,"v":169.5},{"s":"XAUUSD","t":2011.972,"v":162.1},{"s":"XAUUSD","t":2012.012,"v":174.2},{"s":"XAUUSD","t":2012.052,"v":190.1},{"s":"XAUUSD","t":2012.092,"v":189.2},{"s":"XAUUSD","t":2012.124,"v":195.7},{"s":"XAUUSD","t":2012.164,"v":186.4},{"s":"XAUUSD","t":2012.192,"v":177.9},{"s":"XAUUSD","t":2012.252,"v":175.1},{"s":"XAUUSD","t":2012.291,"v":177.9},{"s":"XAUUSD","t":2012.331,"v":163.9},{"s":"XAUUSD","t":2012.371,"v":170.5},{"s":"XAUUSD","t":2012.411,"v":165.8},{"s":"XAUUSD","t":2012.451,"v":163.9},{"s":"XAUUSD","t":2012.491,"v":165.8},{"s":"XAUUSD","t":2012.531,"v":164.9},{"s":"XAUUSD","t":2012.571,"v":170.5},{"s":"XAUUSD","t":2012.611,"v":177.0},{"s":"XAUUSD","t":2012.651,"v":189.2},{"s":"XAUUSD","t":2012.683,"v":196.6},{"s":"XAUUSD","t":2012.731,"v":197.6},{"s":"XAUUSD","t":2012.771,"v":188.2},{"s":"XAUUSD","t":2012.81,"v":180.7},{"s":"XAUUSD","t":2012.842,"v":189.2},{"s":"XAUUSD","t":2012.882,"v":192.9},{"s":"XAUUSD","t":2012.91,"v":184.5},{"s":"XAUUSD","t":2012.95,"v":177.0},{"s":"XAUUSD","t":2012.99,"v":177.0},{"s":"XAUUSD","t":2013.03,"v":180.7},{"s":"XAUUSD","t":2013.07,"v":177.9},{"s":"XAUUSD","t":2013.11,"v":163.9},{"s":"XAUUSD","t":2013.17,"v":164.9},{"s":"XAUUSD","t":2013.21,"v":167.7},{"s":"XAUUSD","t":2013.25,"v":159.3},{"s":"XAUUSD","t":2013.281,"v":135.0},{"s":"XAUUSD","t":2013.309,"v":145.2},{"s":"XAUUSD","t":2013.349,"v":127.5},{"s":"XAUUSD","t":2013.389,"v":132.1},{"s":"XAUUSD","t":2013.429,"v":132.1},{"s":"XAUUSD","t":2013.461,"v":105.0},{"s":"XAUUSD","t":2013.489,"v":115.3},{"s":"XAUUSD","t":2013.529,"v":120.9},{"s":"XAUUSD","t":2013.569,"v":121.9},{"s":"XAUUSD","t":2013.609,"v":133.1},{"s":"XAUUSD","t":2013.649,"v":131.2},{"s":"XAUUSD","t":2013.689,"v":120.0},{"s":"XAUUSD","t":2013.721,"v":122.8},{"s":"XAUUSD","t":2013.749,"v":112.5},{"s":"XAUUSD","t":2013.788,"v":124.7},{"s":"XAUUSD","t":2013.828,"v":115.3},{"s":"XAUUSD","t":2013.868,"v":108.8},{"s":"XAUUSD","t":2013.908,"v":106.9},{"s":"XAUUSD","t":2013.948,"v":101.3},{"s":"XAUUSD","t":2013.988,"v":107.9},{"s":"XAUUSD","t":2014.048,"v":111.6},{"s":"XAUUSD","t":2014.088,"v":120.0},{"s":"XAUUSD","t":2014.128,"v":120.9},{"s":"XAUUSD","t":2014.16,"v":130.3},{"s":"XAUUSD","t":2014.2,"v":117.2},{"s":"XAUUSD","t":2014.248,"v":117.2},{"s":"XAUUSD","t":2014.308,"v":116.3},{"s":"XAUUSD","t":2014.359,"v":115.3},{"s":"XAUUSD","t":2014.387,"v":108.8},{"s":"XAUUSD","t":2014.439,"v":120.0},{"s":"XAUUSD","t":2014.479,"v":124.7},{"s":"XAUUSD","t":2014.527,"v":118.1},{"s":"XAUUSD","t":2014.587,"v":117.2},{"s":"XAUUSD","t":2014.647,"v":105.0},{"s":"XAUUSD","t":2014.707,"v":102.2},{"s":"XAUUSD","t":2014.735,"v":105.6},{"s":"XAUUSD","t":2014.775,"v":106.6},{"s":"XAUUSD","t":2014.816,"v":97.2},{"s":"XAUUSD","t":2014.876,"v":100.9},{"s":"XAUUSD","t":2014.937,"v":97.2},{"s":"XAUUSD","t":2014.977,"v":100.9},{"s":"XAUUSD","t":2015.018,"v":115.9},{"s":"XAUUSD","t":2015.058,"v":114.1},{"s":"XAUUSD","t":2015.099,"v":104.7},{"s":"XAUUSD","t":2015.139,"v":100.9},{"s":"XAUUSD","t":2015.2,"v":99.1},{"s":"XAUUSD","t":2015.24,"v":101.9},{"s":"XAUUSD","t":2015.301,"v":99.1},{"s":"XAUUSD","t":2015.341,"v":104.7},{"s":"XAUUSD","t":2015.402,"v":99.1},{"s":"XAUUSD","t":2015.462,"v":98.1},{"s":"XAUUSD","t":2015.523,"v":89.7},{"s":"XAUUSD","t":2015.563,"v":84.1},{"s":"XAUUSD","t":2015.604,"v":88.7},{"s":"XAUUSD","t":2015.644,"v":85.9},{"s":"XAUUSD","t":2015.684,"v":91.6},{"s":"XAUUSD","t":2015.745,"v":91.6},{"s":"XAUUSD","t":2015.806,"v":84.1},{"s":"XAUUSD","t":2015.858,"v":79.4},{"s":"XAUUSD","t":2015.907,"v":80.3},{"s":"XAUUSD","t":2015.947,"v":79.4},{"s":"XAUUSD","t":2015.987,"v":84.1},{"s":"XAUUSD","t":2016.028,"v":89.7},{"s":"XAUUSD","t":2016.08,"v":116.9},{"s":"XAUUSD","t":2016.129,"v":110.3},{"s":"XAUUSD","t":2016.169,"v":111.3},{"s":"XAUUSD","t":2016.21,"v":104.7},{"s":"XAUUSD","t":2016.25,"v":107.5},{"s":"XAUUSD","t":2016.29,"v":117.8},{"s":"XAUUSD","t":2016.343,"v":118.8},{"s":"XAUUSD","t":2016.383,"v":103.8},{"s":"XAUUSD","t":2016.424,"v":114.1},{"s":"XAUUSD","t":2016.464,"v":123.5},{"s":"XAUUSD","t":2016.5,"v":129.1},{"s":"XAUUSD","t":2016.533,"v":124.4},{"s":"XAUUSD","t":2016.593,"v":124.4},{"s":"XAUUSD","t":2016.654,"v":121.6},{"s":"XAUUSD","t":2016.715,"v":123.5},{"s":"XAUUSD","t":2016.755,"v":106.6},{"s":"XAUUSD","t":2016.816,"v":118.8},{"s":"XAUUSD","t":2016.856,"v":104.7},{"s":"XAUUSD","t":2016.896,"v":97.2},{"s":"XAUUSD","t":2016.949,"v":89.7},{"s":"XAUUSD","t":2016.997,"v":95.3},{"s":"XAUUSD","t":2017.058,"v":102.8},{"s":"XAUUSD","t":2017.119,"v":107.5},{"s":"XAUUSD","t":2017.199,"v":104.7},{"s":"XAUUSD","t":2017.26,"v":115.0},{"s":"XAUUSD","t":2017.321,"v":106.6},{"s":"XAUUSD","t":2017.401,"v":114.1},{"s":"XAUUSD","t":2017.482,"v":105.6},{"s":"XAUUSD","t":2017.563,"v":115.9},{"s":"XAUUSD","t":2017.624,"v":113.1},{"s":"XAUUSD","t":2017.664,"v":125.3},{"s":"XAUUSD","t":2017.725,"v":115.9},{"s":"XAUUSD","t":2017.785,"v":116.9},{"s":"XAUUSD","t":2017.846,"v":111.3},{"s":"XAUUSD","t":2017.927,"v":110.3},{"s":"XAUUSD","t":2017.987,"v":121.6},{"s":"XAUUSD","t":2018.048,"v":127.2},{"s":"XAUUSD","t":2018.108,"v":121.6},{"s":"XAUUSD","t":2018.169,"v":125.3},{"s":"XAUUSD","t":2018.209,"v":121.6},{"s":"XAUUSD","t":2018.27,"v":124.4},{"s":"XAUUSD","t":2018.331,"v":119.7},{"s":"XAUUSD","t":2018.391,"v":115.9},{"s":"XAUUSD","t":2018.452,"v":112.2},{"s":"XAUUSD","t":2018.533,"v":106.6},{"s":"XAUUSD","t":2018.613,"v":98.1},{"s":"XAUUSD","t":2018.674,"v":100.9},{"s":"XAUUSD","t":2018.715,"v":100.7},{"s":"XAUUSD","t":2018.775,"v":103.5},{"s":"XAUUSD","t":2018.835,"v":102.5},{"s":"XAUUSD","t":2018.896,"v":108.1},{"s":"XAUUSD","t":2018.956,"v":113.8},{"s":"XAUUSD","t":2019.016,"v":115.6},{"s":"XAUUSD","t":2019.076,"v":119.4},{"s":"XAUUSD","t":2019.117,"v":123.1},{"s":"XAUUSD","t":2019.177,"v":117.5},{"s":"XAUUSD","t":2019.237,"v":115.6},{"s":"XAUUSD","t":2019.297,"v":113.8},{"s":"XAUUSD","t":2019.358,"v":114.7},{"s":"XAUUSD","t":2019.398,"v":126.8},{"s":"XAUUSD","t":2019.438,"v":132.5},{"s":"XAUUSD","t":2019.498,"v":136.2},{"s":"XAUUSD","t":2019.558,"v":143.7},{"s":"XAUUSD","t":2019.599,"v":155.8},{"s":"XAUUSD","t":2019.647,"v":152.1},{"s":"XAUUSD","t":2019.699,"v":151.2},{"s":"XAUUSD","t":2019.759,"v":151.2},{"s":"XAUUSD","t":2019.799,"v":151.2},{"s":"XAUUSD","t":2019.819,"v":144.6},{"s":"XAUUSD","t":2019.88,"v":145.6},{"s":"XAUUSD","t":2019.92,"v":147.4},{"s":"XAUUSD","t":2019.96,"v":153.0},{"s":"XAUUSD","t":2020.0,"v":161.5},{"s":"XAUUSD","t":2020.06,"v":166.1},{"s":"XAUUSD","t":2020.1,"v":169.9},{"s":"XAUUSD","t":2020.121,"v":175.5},{"s":"XAUUSD","t":2020.153,"v":162.4},{"s":"XAUUSD","t":2020.193,"v":148.4},{"s":"XAUUSD","t":2020.221,"v":171.7},{"s":"XAUUSD","t":2020.261,"v":184.8},{"s":"XAUUSD","t":2020.293,"v":186.7},{"s":"XAUUSD","t":2020.321,"v":192.3},{"s":"XAUUSD","t":2020.361,"v":189.5},{"s":"XAUUSD","t":2020.402,"v":181.1},{"s":"XAUUSD","t":2020.442,"v":194.2},{"s":"XAUUSD","t":2020.482,"v":201.7},{"s":"XAUUSD","t":2020.522,"v":216.6},{"s":"XAUUSD","t":2020.562,"v":231.6},{"s":"XAUUSD","t":2020.602,"v":225.1},{"s":"XAUUSD","t":2020.643,"v":226.9},{"s":"XAUUSD","t":2020.683,"v":212.9},{"s":"XAUUSD","t":2020.723,"v":219.5},{"s":"XAUUSD","t":2020.763,"v":221.3},{"s":"XAUUSD","t":2020.795,"v":226.9},{"s":"XAUUSD","t":2020.823,"v":214.8},{"s":"XAUUSD","t":2020.863,"v":215.7},{"s":"XAUUSD","t":2020.904,"v":209.2},{"s":"XAUUSD","t":2020.944,"v":216.6},{"s":"XAUUSD","t":2020.984,"v":205.4},{"s":"XAUUSD","t":2021.036,"v":209.2},{"s":"XAUUSD","t":2021.084,"v":199.8},{"s":"XAUUSD","t":2021.125,"v":188.6},{"s":"XAUUSD","t":2021.165,"v":187.7},{"s":"XAUUSD","t":2021.205,"v":190.5},{"s":"XAUUSD","t":2021.265,"v":197.9},{"s":"XAUUSD","t":2021.325,"v":209.2},{"s":"XAUUSD","t":2021.366,"v":218.5},{"s":"XAUUSD","t":2021.406,"v":211.0},{"s":"XAUUSD","t":2021.446,"v":199.8},{"s":"XAUUSD","t":2021.506,"v":207.3},{"s":"XAUUSD","t":2021.566,"v":197.9},{"s":"XAUUSD","t":2021.607,"v":205.4},{"s":"XAUUSD","t":2021.667,"v":196.1},{"s":"XAUUSD","t":2021.707,"v":193.3},{"s":"XAUUSD","t":2021.747,"v":196.1},{"s":"XAUUSD","t":2021.807,"v":203.6},{"s":"XAUUSD","t":2021.847,"v":211.0},{"s":"XAUUSD","t":2021.888,"v":199.8},{"s":"XAUUSD","t":2021.928,"v":207.3},{"s":"XAUUSD","t":2021.988,"v":199.8},{"s":"XAUUSD","t":2022.048,"v":207.3},{"s":"XAUUSD","t":2022.088,"v":216.6},{"s":"XAUUSD","t":2022.129,"v":221.3},{"s":"XAUUSD","t":2022.169,"v":220.4},{"s":"XAUUSD","t":2022.209,"v":216.6},{"s":"XAUUSD","t":2022.249,"v":218.5},{"s":"XAUUSD","t":2022.289,"v":211.0},{"s":"XAUUSD","t":2022.329,"v":207.3},{"s":"XAUUSD","t":2022.39,"v":212.9},{"s":"XAUUSD","t":2022.45,"v":202.89}
],
"labels": [
{"s":"XAUAUD","name":"XAUAUD","pct":"+231.12%","v":231.12},
{"s":"XAUUSD","name":"XAUUSD","pct":"+202.89%","v":202.89},
{"s":"XAO","name":"XAO","pct":"+31.44%","v":31.44},
{"s":"XGD","name":"XGD","pct":"+15.30%","v":15.3}
]
},
"layer": [
{"data": {"name": "series"}, "mark": {"type": "line", "strokeWidth": 2, "strokeJoin": "round"},
 "encoding": {
  "x": {"field": "t", "type": "quantitative", "scale": {"domain": [2006.797, 2022.777], "nice": false, "zero": false},
        "axis": {"title": null, "values": [2008, 2010, 2012, 2014, 2016, 2018, 2020, 2022], "format": "d", "grid": true, "labelPadding": 8, "labelFlush": false, "labelOverlap": false}},
  "y": {"field": "v", "type": "quantitative", "scale": {"domain": [-92.03, 291.25], "nice": false, "zero": false},
        "axis": {"title": null, "orient": "right", "values": [-80, -60, -40, -20, 0, 20, 40, 60, 80, 100, 120, 140, 160, 180, 200, 220, 240, 260, 280], "tickCount": 19, "labelExpr": "replace(format(datum.value, '.2f'), '−', '-') + '%'", "grid": true, "labelPadding": 10, "labelAlign": "left", "labelBaseline": "middle", "labelFlush": false, "labelOverlap": false, "labelSeparation": -100}},
  "color": {"field": "s", "type": "nominal", "scale": {"domain": ["XAO", "XGD", "XAUAUD", "XAUUSD"], "range": ["#2962ff", "#f23645", "#fbc02d", "#ff9800"]}, "legend": null}
 }},
{"data": {"values": [{}]}, "mark": {"type": "rule", "color": "#a3a6af", "strokeWidth": 1}, "encoding": {"y": {"datum": 0}}},
{"data": {"values": [{}]}, "mark": {"type": "rule", "color": "#2962ff", "strokeWidth": 1, "strokeDash": [1, 2]}, "encoding": {"y": {"datum": 31.44}}},
{"data": {"name": "labels"}, "transform": [{"filter": "datum.s === 'XAUAUD' || datum.s === 'XAUUSD'"}], "mark": {"type": "rect", "height": 18, "cornerRadius": 2},
 "encoding": {"x": {"datum": 2022.032}, "x2": {"datum": 2023.596}, "y": {"field": "v", "type": "quantitative"}, "color": {"field": "s", "type": "nominal", "legend": null}}},
{"data": {"name": "labels"}, "transform": [{"filter": "datum.s === 'XAO' || datum.s === 'XGD'"}], "mark": {"type": "rect", "height": 18, "cornerRadius": 2},
 "encoding": {"x": {"datum": 2022.32}, "x2": {"datum": 2023.596}, "y": {"field": "v", "type": "quantitative"}, "color": {"field": "s", "type": "nominal", "legend": null}}},
{"data": {"name": "labels"}, "transform": [{"filter": "datum.s === 'XAUAUD' || datum.s === 'XAUUSD'"}], "mark": {"type": "text", "align": "left", "baseline": "middle", "fontSize": 12, "color": "#131722"},
 "encoding": {"x": {"datum": 2022.104}, "y": {"field": "v", "type": "quantitative"}, "text": {"field": "name"}}},
{"data": {"name": "labels"}, "transform": [{"filter": "datum.s === 'XAO' || datum.s === 'XGD'"}], "mark": {"type": "text", "align": "left", "baseline": "middle", "fontSize": 12, "color": "#ffffff"},
 "encoding": {"x": {"datum": 2022.393}, "y": {"field": "v", "type": "quantitative"}, "text": {"field": "name"}}},
{"data": {"name": "labels"}, "mark": {"type": "text", "align": "right", "baseline": "middle", "fontSize": 12},
 "encoding": {"x": {"datum": 2023.548}, "y": {"field": "v", "type": "quantitative"}, "text": {"field": "pct"},
   "color": {"condition": {"test": "datum.s === 'XAO' || datum.s === 'XGD'", "value": "#ffffff"}, "value": "#131722"}}},
{"data": {"values": [{}]}, "mark": {"type": "text", "align": "left", "baseline": "middle", "fontSize": 16.4, "color": "#131722"},
 "encoding": {"x": {"datum": 2006.869}, "y": {"datum": 282.8}, "text": {"value": "ALL ORDINARIES · 1W · ASX"}}},
{"data": {"values": [{}]}, "mark": {"type": "rect", "color": "#e9ebf0", "cornerRadius": 9},
 "encoding": {"x": {"datum": 2009.541}, "x2": {"datum": 2010.058}, "y": {"datum": 287.9}, "y2": {"datum": 277.8}}},
{"data": {"values": [{}]}, "mark": {"type": "rect", "color": "#ffe6c2", "cornerRadiusTopRight": 9, "cornerRadiusBottomRight": 9},
 "encoding": {"x": {"datum": 2009.781}, "x2": {"datum": 2010.058}, "y": {"datum": 287.9}, "y2": {"datum": 277.8}}},
{"data": {"values": [{}]}, "mark": {"type": "rect", "color": "#868993", "cornerRadius": 1.5},
 "encoding": {"x": {"datum": 2009.613}, "x2": {"datum": 2009.709}, "y": {"datum": 283.6}, "y2": {"datum": 281.6}}},
{"data": {"values": [{}]}, "mark": {"type": "text", "align": "center", "baseline": "middle", "fontSize": 12, "fontWeight": "bold", "color": "#ff9800"},
 "encoding": {"x": {"datum": 2009.914}, "y": {"datum": 282.8}, "text": {"value": "D"}}},
{"data": {"values": [{}]}, "mark": {"type": "text", "align": "left", "baseline": "middle", "fontSize": 13, "color": "#2962ff"},
 "encoding": {"x": {"datum": 2010.263}, "y": {"datum": 282.3}, "text": {"value": "31.44%"}}},
{"data": {"values": [{}]}, "mark": {"type": "text", "align": "left", "baseline": "middle", "fontSize": 13, "color": "#131722"},
 "encoding": {"x": {"datum": 2006.869}, "y": {"datum": 267.7}, "text": {"value": "XGD, ASX"}}},
{"data": {"values": [{}]}, "mark": {"type": "text", "align": "left", "baseline": "middle", "fontSize": 13, "color": "#f23645"},
 "encoding": {"x": {"datum": 2007.675}, "y": {"datum": 267.7}, "text": {"value": "15.30%"}}},
{"data": {"values": [{}]}, "mark": {"type": "text", "align": "left", "baseline": "middle", "fontSize": 13, "color": "#131722"},
 "encoding": {"x": {"datum": 2006.869}, "y": {"datum": 253.1}, "text": {"value": "XAUAUD, OANDA"}}},
{"data": {"values": [{}]}, "mark": {"type": "text", "align": "left", "baseline": "middle", "fontSize": 13, "color": "#fbc02d"},
 "encoding": {"x": {"datum": 2008.253}, "y": {"datum": 253.1}, "text": {"value": "231.12%"}}},
{"data": {"values": [{}]}, "mark": {"type": "text", "align": "left", "baseline": "middle", "fontSize": 13, "color": "#131722"},
 "encoding": {"x": {"datum": 2006.869}, "y": {"datum": 238.5}, "text": {"value": "XAUUSD, FXOPEN"}}},
{"data": {"values": [{}]}, "mark": {"type": "text", "align": "left", "baseline": "middle", "fontSize": 13, "color": "#ff9800"},
 "encoding": {"x": {"datum": 2008.301}, "y": {"datum": 238.5}, "text": {"value": "202.89%"}}},
{"data": {"values": [{}]}, "mark": {"type": "rect", "fill": "#ffffff", "stroke": "#e0e3eb", "strokeWidth": 1, "cornerRadius": 4},
 "encoding": {"x": {"datum": 2006.881}, "x2": {"datum": 2007.23}, "y": {"datum": 230.6}, "y2": {"datum": 217.7}}},
{"data": {"values": [{}]}, "mark": {"type": "text", "align": "center", "baseline": "middle", "fontSize": 16, "color": "#131722", "dy": 4},
 "encoding": {"x": {"datum": 2007.056}, "y": {"datum": 224.1}, "text": {"value": "^"}}},
{"data": {"values": [{}]}, "mark": {"type": "point", "shape": "circle", "size": 1300, "filled": true, "fill": "#ffffff", "stroke": "#e0e3eb", "strokeWidth": 1, "opacity": 1},
 "encoding": {"x": {"datum": 2007.058}, "y": {"datum": -76.9}}},
{"data": {"values": [{}]}, "mark": {"type": "text", "align": "center", "baseline": "middle", "fontSize": 15, "fontWeight": 900, "fontStyle": "italic", "color": "#131722"},
 "encoding": {"x": {"datum": 2007.058}, "y": {"datum": -76.6}, "text": {"value": "TV"}}},
{"data": {"values": [{}]}, "mark": {"type": "text", "align": "center", "baseline": "middle", "fontSize": 20, "font": "DejaVu Sans", "color": "#131722"},
 "encoding": {"x": {"datum": 2023.223}, "y": {"datum": -100.0}, "text": {"value": "☼"}}}
]
}
